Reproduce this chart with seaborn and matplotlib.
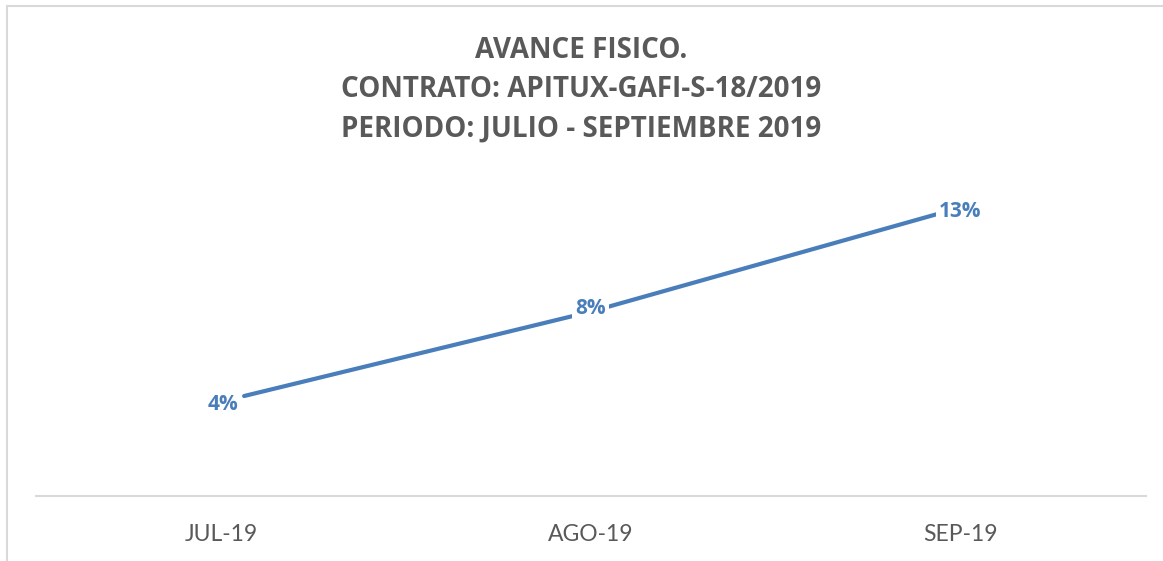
import matplotlib.pyplot as plt
import matplotlib.patches as mpatches
import seaborn as sns
import pandas as pd

sns.set_theme(style="white")
plt.rcParams['font.family'] = ['Lato', 'DejaVu Sans']

meses = ["JUL-19", "AGO-19", "SEP-19"]
avance = [0.045, 0.083, 0.127]
etiquetas = ["4%", "8%", "13%"]

titulo = "AVANCE FISICO.\nCONTRATO: APITUX-GAFI-S-18/2019\nPERIODO: JULIO - SEPTIEMBRE 2019"

azul = "#4a7ebb"
gris = "#595959"
negrita = ['Open Sans', 'DejaVu Sans']

df = pd.DataFrame({"mes": range(len(meses)), "avance": avance})

fig = plt.figure(figsize=(11.63, 5.61), dpi=100)
ax = fig.add_axes([0.031, 0.116, 0.954, 0.554])

sns.lineplot(data=df, x="mes", y="avance", ax=ax, color=azul, linewidth=3)

# data labels: left, centre, right like the original
aligns = [("right", -4, -6), ("center", 0, 2), ("left", 1, 2)]
for x, y, txt, (ha, dx, dy) in zip(df["mes"], df["avance"], etiquetas, aligns):
    ax.annotate(txt, (x, y), xytext=(dx, dy), textcoords="offset points",
                ha=ha, va="center", color=azul, fontsize=15,
                fontweight="bold", family=negrita,
                bbox=dict(boxstyle="square,pad=0.15", fc="white", ec="none"))

ax.set_xlim(-0.6, 2.6)
ax.set_ylim(0, 0.14)
# Excel puts category labels slightly wider apart than the line points
ax.set_xticks([1 + (i - 1) * 370 / 347 for i in range(len(meses))])
ax.set_xticklabels(meses, fontsize=16.5, color=gris)
ax.tick_params(axis="x", length=0, pad=20)
ax.set_yticks([])
ax.set_xlabel("")
ax.set_ylabel("")
for s in ["top", "right", "left"]:
    ax.spines[s].set_visible(False)
ax.spines["bottom"].set_color("#d9d9d9")
ax.spines["bottom"].set_linewidth(1.5)

fig.text(0.5, 0.84, titulo, ha="center", va="center", fontsize=20,
         fontweight="bold", color=gris, linespacing=1.45, family=negrita)

# light chart border
fig.patches.append(mpatches.Rectangle((0.006, -0.1), 1.1, 1.089,
                                      transform=fig.transFigure, fill=False,
                                      edgecolor="#d9d9d9", linewidth=1.5))

fig.savefig("out.png", dpi=100)
